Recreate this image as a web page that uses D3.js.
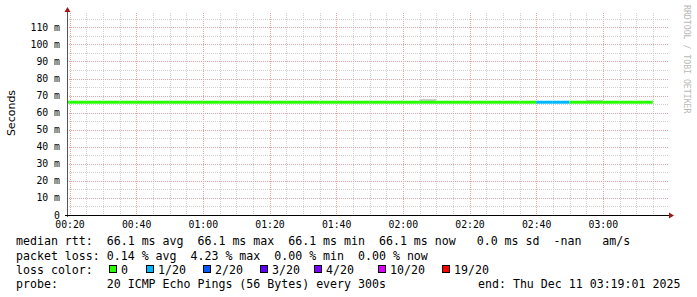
<!DOCTYPE html>
<html>
<head>
<meta charset="UTF-8">
<script src="https://d3js.org/d3.v7.min.js"></script>
<style>
  body { margin: 0; background: #fff; }
  svg { display: block; }
  .mono { font-family: "DejaVu Sans Mono", monospace; }
</style>
</head>
<body>
<svg id="chart" width="697" height="297"></svg>
<script>
// 5-minute steps (end time of each step)
const stepEnds = ["00:20","00:25","00:30","00:35","00:40","00:45","00:50","00:55",
  "01:00","01:05","01:10","01:15","01:20","01:25","01:30","01:35","01:40","01:45",
  "01:50","01:55","02:00","02:05","02:10","02:15","02:20","02:25","02:30","02:35",
  "02:40","02:45","02:50","02:55","03:00","03:05","03:10","03:15"];
const medianRtt = [66.1,66.1,66.1,66.1,66.1,66.1,66.1,66.1,66.1,66.1,66.1,66.1,
  66.1,66.1,66.1,66.1,66.1,66.1,66.1,66.1,66.1,66.1,66.1,66.1,66.1,66.1,66.1,66.1,
  66.1,66.1,66.1,66.1,66.1,66.1,66.1,66.1];
const lossCount = [0,0,0,0,0,0,0,0,0,0,0,0,0,0,0,0,0,0,0,0,0,0,0,0,0,0,0,0,0,1,1,0,0,0,0,0];
const smokeLo = [66.1,66.1,66.1,66.1,66.1,66.1,66.1,66.1,66.1,66.1,66.1,66.1,
  66.1,66.1,66.1,66.1,66.1,66.1,66.1,66.1,66.1,66.1,66.4,66.1,66.1,66.1,66.1,66.1,
  66.1,66.1,66.1,66.1,66.4,66.1,66.1,66.1];
const smokeHi = [66.1,66.1,66.1,66.1,66.1,66.1,66.1,66.1,66.1,66.1,66.1,66.1,
  66.1,66.1,66.1,66.1,66.1,66.1,66.1,66.1,66.1,66.1,68.0,66.1,66.1,66.1,66.1,66.1,
  66.1,66.1,66.1,66.1,67.4,66.1,66.1,66.1];

const yTicks = [0,10,20,30,40,50,60,70,80,90,100,110];
const yLabels = ["0","10 m","20 m","30 m","40 m","50 m","60 m","70 m","80 m","90 m","100 m","110 m"];
const xTicks = ["00:20","00:40","01:00","01:20","01:40","02:00","02:20","02:40","03:00"];

const lossSteps = [0,1,2,3,4,10,19];
const lossNames = ["0","1/20","2/20","3/20","4/20","10/20","19/20"];
const lossColors = ["#26ff00","#00b8ff","#0059ff","#5e00ff","#7e00ff","#dd00ff","#ff0000"];

const legendLines = [
  "median rtt:  66.1 ms avg  66.1 ms max  66.1 ms min  66.1 ms now   0.0 ms sd  -nan   am/s",
  "packet loss: 0.14 % avg  4.23 % max  0.00 % min  0.00 % now",
  "loss color:",
  "probe:       20 ICMP Echo Pings (56 Bytes) every 300s"
];
const endLabel = "end: Thu Dec 11 03:19:01 2025";

const svg = d3.select("#chart");
const parse = d3.timeParse("%H:%M");
const sec = s => { const d = parse(s); return d.getHours() * 3600 + d.getMinutes() * 60; };
const keepSpaces = s => s.replace(/ /g, "\u00a0");

const pLeft = 67, pRight = 667, pTop = 13, pBottom = 215;
const tStart = sec("00:19") + 15, tEnd = tStart + 3 * 3600;
const x = d3.scaleLinear().domain([tStart, tEnd]).range([pLeft, pRight]);
const y = d3.scaleLinear().domain([0, 118.4]).range([pBottom, pTop]);

// grid: minor every 5 min / 5 m, major every 20 min / 10 m
const minorX = d3.range(sec("00:20"), tEnd, 300);
const minorY = d3.range(5, 118, 5);
const grid = svg.append("g").attr("shape-rendering", "crispEdges");
grid.selectAll(".vx").data(minorX).join("line")
  .attr("x1", d => Math.round(x(d)) + 0.5).attr("x2", d => Math.round(x(d)) + 0.5)
  .attr("y1", pTop).attr("y2", pBottom)
  .attr("stroke", d => (d - sec("00:20")) % 1200 === 0 ? "#f0a0a0" : "#d0d0d0")
  .attr("stroke-dasharray", "1,1");
grid.selectAll(".hy").data(minorY).join("line")
  .attr("y1", d => Math.round(y(d)) + 0.5).attr("y2", d => Math.round(y(d)) + 0.5)
  .attr("x1", pLeft).attr("x2", pRight + 1)
  .attr("stroke", d => d % 10 === 0 ? "#f0a0a0" : "#d0d0d0")
  .attr("stroke-dasharray", "1,1");

// smoke
const steps = stepEnds.map((s, i) => ({
  t1: Math.max(sec(s) - 300, tStart), t2: sec(s),
  med: medianRtt[i], loss: lossCount[i], lo: smokeLo[i], hi: smokeHi[i]
}));
svg.append("g").selectAll("rect").data(steps.filter(d => d.hi > d.lo)).join("rect")
  .attr("x", d => x(d.t1)).attr("width", d => x(d.t2) - x(d.t1))
  .attr("y", d => y(d.hi)).attr("height", d => y(d.lo) - y(d.hi))
  .attr("fill", "#cccccc");

// median line coloured by loss
const lossColor = d3.scaleThreshold().domain(lossSteps.slice(1)).range(lossColors);
svg.append("g").selectAll("line").data(steps).join("line")
  .attr("x1", d => x(d.t1)).attr("x2", d => x(d.t2))
  .attr("y1", d => y(d.med)).attr("y2", d => y(d.med))
  .attr("stroke", d => lossColor(d.loss)).attr("stroke-width", 3);

// axes
svg.append("line").attr("x1", pLeft + 0.5).attr("x2", pLeft + 0.5).attr("y1", 9).attr("y2", pBottom + 2)
  .attr("stroke", "#555");
svg.append("line").attr("x1", pLeft - 2).attr("x2", 670).attr("y1", pBottom + 0.5).attr("y2", pBottom + 0.5)
  .attr("stroke", "#000");
svg.append("path").attr("d", `M${pLeft - 2.5},12 L${pLeft + 3.5},12 L${pLeft + 0.5},7 Z`).attr("fill", "#a01818");
svg.append("path").attr("d", `M669,${pBottom - 2.5} L669,${pBottom + 3.5} L674,${pBottom + 0.5} Z`).attr("fill", "#a01818");

// tick labels
svg.append("g").attr("class", "mono").attr("font-size", "9.8px").attr("fill", "#000")
  .selectAll("text").data(yTicks).join("text")
  .attr("x", 60).attr("y", d => y(d) + 3.5).attr("text-anchor", "end")
  .text((d, i) => keepSpaces(yLabels[i]));
svg.append("g").attr("class", "mono").attr("font-size", "9.8px").attr("fill", "#000")
  .selectAll("text").data(xTicks).join("text")
  .attr("x", d => x(sec(d)) + 0.5).attr("y", 228).attr("text-anchor", "middle")
  .text(d => d);

// axis title
svg.append("text").attr("transform", "translate(15,113) rotate(-90)")
  .attr("text-anchor", "middle").attr("font-family", "DejaVu Sans, sans-serif")
  .attr("font-size", "11px").text("Seconds");

// watermark
svg.append("text").attr("class", "mono").attr("transform", "translate(684,5) rotate(90)")
  .attr("font-size", "8.2px").attr("fill", "#b8b8b8").text("RRDTOOL / TOBI OETIKER");

// legend
const leg = svg.append("g").attr("class", "mono").attr("font-size", "11.6px").attr("fill", "#000");
const rowY = [245, 259.5, 273.5, 288];
leg.selectAll("text.row").data(legendLines).join("text")
  .attr("x", 16).attr("y", (d, i) => rowY[i]).text(d => keepSpaces(d));
leg.append("text").attr("x", 478).attr("y", rowY[3]).text(keepSpaces(endLabel));

const boxX = [109, 146, 203, 260, 314, 378, 442];
const items = leg.selectAll("g.item").data(lossNames).join("g");
items.append("rect").attr("x", (d, i) => boxX[i] + 0.5).attr("y", 265.5).attr("width", 7).attr("height", 7)
  .attr("fill", (d, i) => lossColors[i]).attr("stroke", "#000").attr("stroke-width", 1);
items.append("text").attr("x", (d, i) => boxX[i] + 12).attr("y", rowY[2]).text(d => d);
</script>
</body>
</html>
